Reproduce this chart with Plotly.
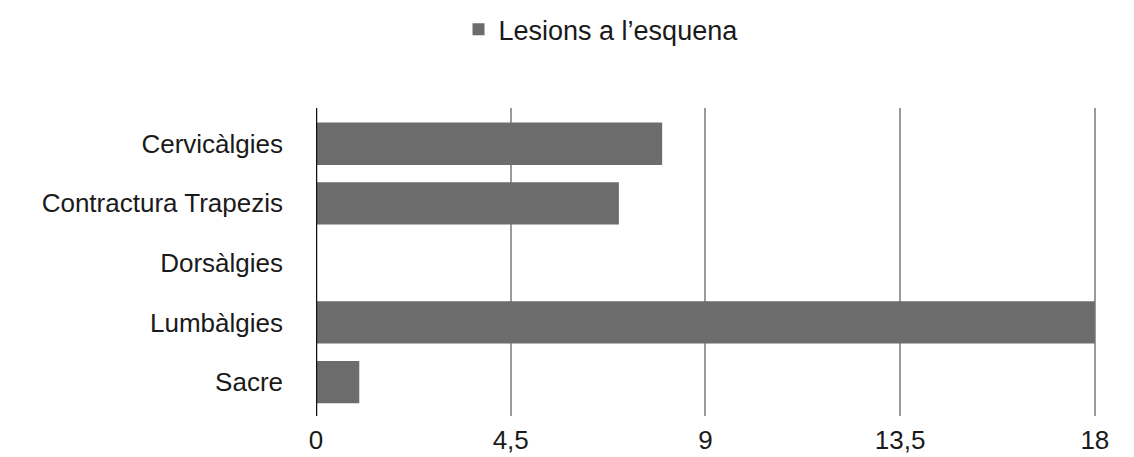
import plotly.graph_objects as go

categories = ["Cervicàlgies", "Contractura Trapezis", "Dorsàlgies", "Lumbàlgies", "Sacre"]
values = [8, 7, 0, 18, 1]
tick_vals = [0, 4.5, 9, 13.5, 18]
tick_text = ["0", "4,5", "9", "13,5", "18"]
series_name = "Lesions a l’esquena"

fig = go.Figure()
fig.add_trace(go.Bar(
    y=categories, x=values, orientation="h", name=series_name,
    marker=dict(color="#6c6c6c", line=dict(width=0)),
    width=0.71, showlegend=True,
))

fig.update_layout(
    width=1134, height=457,
    margin=dict(l=316, r=37, t=108, b=41),
    paper_bgcolor="white", plot_bgcolor="white",
    font=dict(family="Liberation Sans, Arial, sans-serif", size=26, color="#1a1a1a"),
    showlegend=True,
    legend=dict(orientation="h", xref="container", yref="container",
                x=0.53, y=0.935, xanchor="center", yanchor="middle",
                font=dict(size=27), bgcolor="rgba(0,0,0,0)"),
    xaxis=dict(range=[0, 18.05], tickvals=tick_vals, ticktext=tick_text,
               showgrid=True, gridcolor="#9a9a9a", gridwidth=1.5,
               zeroline=False, showline=False, ticks="", ticklen=0,
               ticklabelstandoff=6, automargin=False,
               tickfont=dict(size=26)),
    yaxis=dict(range=[4.57, -0.6], type="category", showgrid=False,
               zeroline=False, showline=False, ticks="",
               ticklabelstandoff=32, automargin=False,
               tickfont=dict(size=26)),
    shapes=[dict(type="line", xref="x", yref="paper", x0=0, x1=0, y0=0, y1=1,
                 line=dict(color="#111111", width=2.5))],
)

fig.write_html("out.html")
